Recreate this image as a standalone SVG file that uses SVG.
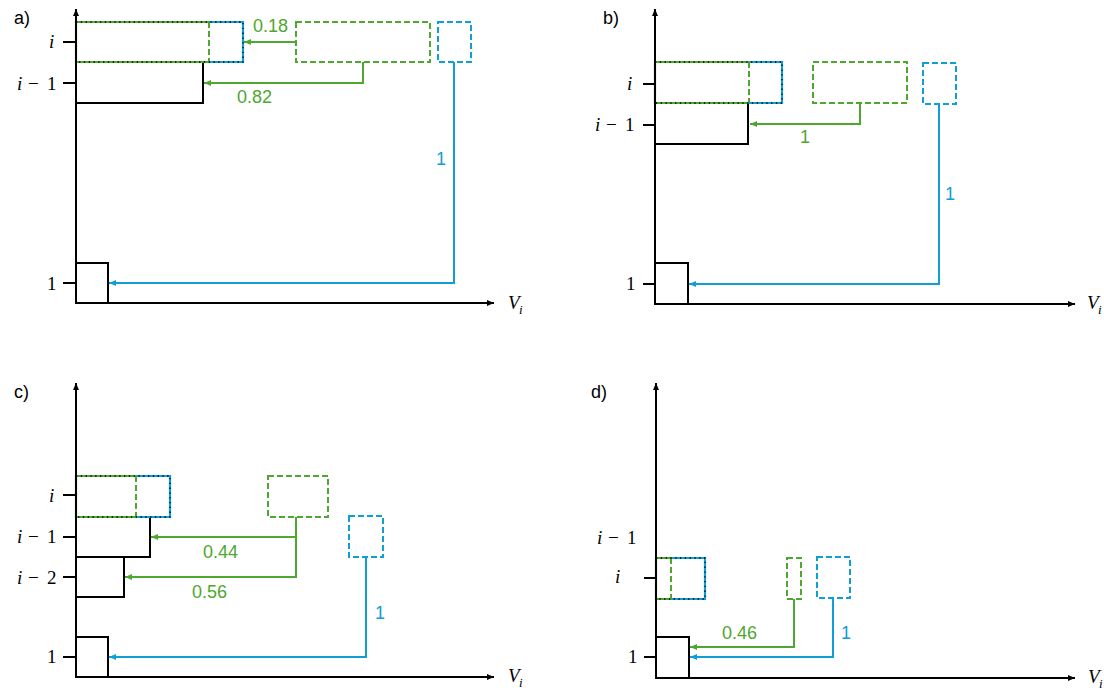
<svg xmlns="http://www.w3.org/2000/svg" width="1104" height="691" viewBox="0 0 1104 691">
<style>
.bg{fill:#fff}
.k{fill:none;stroke:#000;stroke-width:2}
.ax{fill:none;stroke:#000;stroke-width:2}
.tick{stroke:#000;stroke-width:2}
.gd{fill:none;stroke:#4EA72E;stroke-width:2;stroke-dasharray:6 3}
.bd{fill:none;stroke:#0F9ED5;stroke-width:2;stroke-dasharray:6 3}
.gs{fill:none;stroke:#4EA72E;stroke-width:2.2}
.bs{fill:none;stroke:#0F9ED5;stroke-width:2.2}
.dot{fill:none;stroke:#000;stroke-width:1.3;stroke-dasharray:1.3 3.5}
.ga{fill:none;stroke:#4EA72E;stroke-width:2}
.ba{fill:none;stroke:#0F9ED5;stroke-width:2}
.m{font-family:"Liberation Serif","DejaVu Serif",serif;font-size:19px;fill:#000}
.it{font-style:italic}
.sub{font-family:"Liberation Serif","DejaVu Serif",serif;font-style:italic;font-size:13px;fill:#000}
.p{font-family:"Liberation Sans","Open Sans",sans-serif;font-size:18px;fill:#000}
.gl{font-family:"Liberation Sans","Open Sans",sans-serif;font-size:18px;fill:#4EA72E}
.bl{font-family:"Liberation Sans","Open Sans",sans-serif;font-size:18px;fill:#0F9ED5}
</style>
<defs>
<marker id="ak" markerWidth="8" markerHeight="8" refX="7" refY="4" orient="auto" markerUnits="userSpaceOnUse"><path d="M0,1 L7,4 L0,7 z" fill="#000"/></marker>
<marker id="ag" markerWidth="8" markerHeight="8" refX="7" refY="4" orient="auto" markerUnits="userSpaceOnUse"><path d="M0,1 L7,4 L0,7 z" fill="#4EA72E"/></marker>
<marker id="ab" markerWidth="8" markerHeight="8" refX="7" refY="4" orient="auto" markerUnits="userSpaceOnUse"><path d="M0,1 L7,4 L0,7 z" fill="#0F9ED5"/></marker>
</defs>
<rect class="bg" x="0" y="0" width="1104" height="691"/>

<!-- Panel a -->
<g id="panel-a">
  <text class="p" x="14" y="24">a)</text>
  <rect id="a-row-im1" class="k" x="76" y="62" width="127" height="41"/>
  <rect id="a-row-1" class="k" x="76" y="263" width="32" height="40"/>
  <g id="a-row-i">
    <path class="gs" d="M209,22 H76 V62 H209"/>
    <path class="bs" d="M209,22 H243 V62 H209"/>
    <line class="gd" x1="209" y1="22" x2="209" y2="62"/>
    <rect class="dot" x="76" y="22" width="167" height="40"/>
  </g>
  <rect id="a-green" class="gd" x="296" y="22" width="134" height="40"/>
  <rect id="a-blue" class="bd" x="438" y="22" width="33" height="40"/>
  <g id="a-ticks">
    <line class="tick" x1="63" y1="42" x2="76" y2="42"/>
    <line class="tick" x1="63" y1="83" x2="76" y2="83"/>
    <line class="tick" x1="63" y1="283" x2="76" y2="283"/>
  </g>
  <text class="m it" x="49" y="48">i</text>
  <text class="m" y="90"><tspan class="it" x="17">i</tspan><tspan x="28">−</tspan><tspan x="47">1</tspan></text>
  <text class="m" x="47" y="290">1</text>
  <text class="m it" x="508" y="309">V</text><text class="sub" x="519" y="314">i</text>
</g>

<!-- Panel b -->
<g id="panel-b">
  <text class="p" x="603" y="24">b)</text>
  <rect id="b-row-im1" class="k" x="655" y="103" width="93" height="41"/>
  <rect id="b-row-1" class="k" x="655" y="263" width="33" height="41"/>
  <g id="b-row-i">
    <path class="gs" d="M749,62 H655 V103 H749"/>
    <path class="bs" d="M749,62 H782 V103 H749"/>
    <line class="gd" x1="749" y1="62" x2="749" y2="103"/>
    <rect class="dot" x="655" y="62" width="127" height="41"/>
  </g>
  <rect id="b-green" class="gd" x="813" y="62" width="94" height="41"/>
  <rect id="b-blue" class="bd" x="923" y="63" width="33" height="41"/>
  <g id="b-ticks">
    <line class="tick" x1="643" y1="84" x2="655" y2="84"/>
    <line class="tick" x1="643" y1="125" x2="655" y2="125"/>
    <line class="tick" x1="643" y1="284" x2="655" y2="284"/>
  </g>
  <text class="m it" x="627" y="90">i</text>
  <text class="m" y="131"><tspan class="it" x="595">i</tspan><tspan x="606">−</tspan><tspan x="625">1</tspan></text>
  <text class="m" x="626" y="290">1</text>
  <text class="m it" x="1087" y="309">V</text><text class="sub" x="1098" y="314">i</text>
</g>

<!-- Panel c -->
<g id="panel-c">
  <text class="p" x="14" y="398">c)</text>
  <rect id="c-row-im1" class="k" x="76" y="517" width="74" height="40"/>
  <rect id="c-row-im2" class="k" x="76" y="557" width="48" height="40"/>
  <rect id="c-row-1" class="k" x="76" y="637" width="32" height="40"/>
  <g id="c-row-i">
    <path class="gs" d="M136,476 H76 V517 H136"/>
    <path class="bs" d="M136,476 H170 V517 H136"/>
    <line class="gd" x1="136" y1="476" x2="136" y2="517"/>
    <rect class="dot" x="76" y="476" width="94" height="41"/>
  </g>
  <rect id="c-green" class="gd" x="268" y="476" width="60" height="41"/>
  <rect id="c-blue" class="bd" x="349" y="516" width="34" height="41"/>
  <g id="c-ticks">
    <line class="tick" x1="63" y1="495" x2="76" y2="495"/>
    <line class="tick" x1="63" y1="537" x2="76" y2="537"/>
    <line class="tick" x1="63" y1="577" x2="76" y2="577"/>
    <line class="tick" x1="63" y1="657" x2="76" y2="657"/>
  </g>
  <text class="m it" x="49" y="502">i</text>
  <text class="m" y="543"><tspan class="it" x="17">i</tspan><tspan x="28">−</tspan><tspan x="47">1</tspan></text>
  <text class="m" y="584"><tspan class="it" x="17">i</tspan><tspan x="28">−</tspan><tspan x="47">2</tspan></text>
  <text class="m" x="47" y="663">1</text>
  <text class="m it" x="508" y="682">V</text><text class="sub" x="519" y="687">i</text>
</g>

<!-- Panel d -->
<g id="panel-d">
  <text class="p" x="591" y="398">d)</text>
  <rect id="d-row-1" class="k" x="656" y="637" width="33" height="41"/>
  <g id="d-row-i">
    <path class="gs" d="M671,558 H656 V599 H671"/>
    <path class="bs" d="M671,558 H705 V599 H671"/>
    <line class="gd" x1="671" y1="558" x2="671" y2="599"/>
    <rect class="dot" x="656" y="558" width="49" height="41"/>
  </g>
  <rect id="d-green" class="gd" x="787" y="558" width="14" height="41"/>
  <rect id="d-blue" class="bd" x="817" y="557" width="33" height="41"/>
  <g id="d-ticks">
    <line class="tick" x1="644" y1="578" x2="656" y2="578"/>
    <line class="tick" x1="644" y1="657" x2="656" y2="657"/>
  </g>
  <text class="m" y="544"><tspan class="it" x="597">i</tspan><tspan x="608">−</tspan><tspan x="627">1</tspan></text>
  <text class="m it" x="615" y="583">i</text>
  <text class="m" x="628" y="663">1</text>
  <text class="m it" x="1088" y="683">V</text><text class="sub" x="1099" y="688">i</text>
</g>

<g id="connectors">
  <path class="ax" d="M76,303 V9" marker-end="url(#ak)"/>
  <path class="ax" d="M76,303 H494" marker-end="url(#ak)"/>
  <path class="ax" d="M655,304 V9" marker-end="url(#ak)"/>
  <path class="ax" d="M655,304 H1075" marker-end="url(#ak)"/>
  <path class="ax" d="M76,677 V383" marker-end="url(#ak)"/>
  <path class="ax" d="M76,677 H494" marker-end="url(#ak)"/>
  <path class="ax" d="M656,678 V383" marker-end="url(#ak)"/>
  <path class="ax" d="M656,678 H1075" marker-end="url(#ak)"/>
  <path class="ga" d="M296,42 H244" marker-end="url(#ag)"/>
  <path class="ga" d="M363,62 V83 H204" marker-end="url(#ag)"/>
  <path class="ba" d="M454,62 V283 H109" marker-end="url(#ab)"/>
  <path class="ga" d="M860,103 V124 H750" marker-end="url(#ag)"/>
  <path class="ba" d="M939,104 V284 H689" marker-end="url(#ab)"/>
  <path class="ga" d="M296,517 V577 H125" marker-end="url(#ag)"/>
  <path class="ga" d="M296,537 H151" marker-end="url(#ag)"/>
  <path class="ba" d="M366,557 V657 H109" marker-end="url(#ab)"/>
  <path class="ga" d="M794,599 V647 H690" marker-end="url(#ag)"/>
  <path class="ba" d="M833,598 V657 H690" marker-end="url(#ab)"/>
</g>

<g id="connector-labels">
  <text class="gl" x="253" y="32">0.18</text>
  <text class="gl" x="237" y="103">0.82</text>
  <text class="bl" x="436" y="165">1</text>
  <text class="gl" x="800" y="143">1</text>
  <text class="bl" x="945" y="200">1</text>
  <text class="gl" x="203" y="558">0.44</text>
  <text class="gl" x="192" y="598">0.56</text>
  <text class="bl" x="375" y="619">1</text>
  <text class="gl" x="722" y="639">0.46</text>
  <text class="bl" x="841" y="639">1</text>
</g>
</svg>
